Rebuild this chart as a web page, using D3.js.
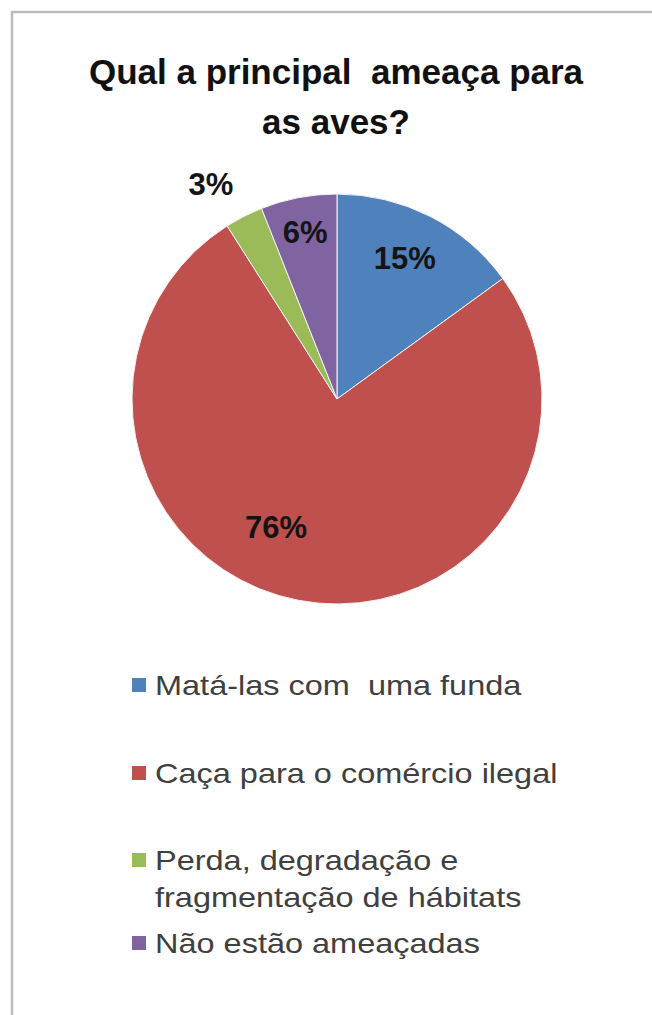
<!DOCTYPE html>
<html>
<head>
<meta charset="utf-8">
<script src="https://cdn.jsdelivr.net/npm/d3@7"></script>
<style>
  html, body { margin: 0; padding: 0; background: #fff; }
  svg { display: block; }
  svg text { white-space: pre; }
</style>
</head>
<body>
<svg id="chart" width="652" height="1015"></svg>
<script>
// Survey answers: main threat to birds
const titleLines = ["Qual a principal  ameaça para", "as aves?"];
const categories = [
  "Matá-las com  uma funda",
  "Caça para o comércio ilegal",
  "Perda, degradação e fragmentação de hábitats",
  "Não estão ameaçadas"
];
const legendLines = [
  ["Matá-las com  uma funda"],
  ["Caça para o comércio ilegal"],
  ["Perda, degradação e", "fragmentação de hábitats"],
  ["Não estão ameaçadas"]
];
const values = [15, 76, 3, 6];
const colors = ["#4f81bd", "#c0504d", "#9bbb59", "#8064a2"];

const svg = d3.select("#chart");
const W = 652, H = 1015;

// frame (only top and left edges fall inside the page)
svg.append("path")
  .attr("d", `M12,${H} L12,12 L${W},12`)
  .attr("fill", "none")
  .attr("stroke", "#bcbcbc")
  .attr("stroke-width", 2.5);

// title
const title = svg.append("text")
  .attr("text-anchor", "middle")
  .attr("font-family", "'Liberation Sans', Arial, sans-serif")
  .attr("font-weight", "bold")
  .attr("font-size", 35)
  .attr("fill", "#111");
title.selectAll("tspan").data(titleLines).join("tspan")
  .attr("x", 336)
  .attr("y", (d, i) => 84 + i * 50)
  .text(d => d);

// pie
const cx = 337, cy = 399, R = 205;
const pie = d3.pie().sort(null).value(d => d)(values);
const arc = d3.arc().innerRadius(0).outerRadius(R);

const g = svg.append("g").attr("transform", `translate(${cx},${cy})`);
g.selectAll("path.slice").data(pie).join("path")
  .attr("class", "slice")
  .attr("d", arc)
  .attr("fill", (d, i) => colors[i])
  .attr("stroke", "#f4f4f4")
  .attr("stroke-width", 1);

// data label placement: position along each slice's sweep, and distance from centre
const labelSweep = [0.476, 0.554, 0.185, 0.5];
const labelRadius = [0.763, 0.69, 1.215, 0.83];
g.selectAll("text.lbl").data(pie).join("text")
  .attr("class", "lbl")
  .attr("text-anchor", "middle")
  .attr("font-family", "'Liberation Sans', Arial, sans-serif")
  .attr("font-weight", "bold")
  .attr("font-size", 31)
  .attr("fill", "#141414")
  .attr("dy", "0.36em")
  .attr("transform", (d, i) => {
    const a = d.startAngle + (d.endAngle - d.startAngle) * labelSweep[i];
    const r = R * labelRadius[i];
    return `translate(${Math.sin(a) * r},${-Math.cos(a) * r})`;
  })
  .text(d => d.value + "%");

// legend
const rowBaseline = [695, 783, 870, 953];
const legend = svg.append("g");
const rows = legend.selectAll("g.row").data(categories).join("g").attr("class", "row");
rows.append("rect")
  .attr("x", 132)
  .attr("y", (d, i) => rowBaseline[i] - 17)
  .attr("width", 14)
  .attr("height", 14)
  .attr("fill", (d, i) => colors[i]);
rows.each(function (d, i) {
  d3.select(this).selectAll("text").data(legendLines[i]).join("text")
    .attr("transform", (t, j) => `translate(155,${rowBaseline[i] + j * 37}) scale(1.16,1)`)
    .attr("font-family", "'Liberation Sans', Arial, sans-serif")
    .attr("font-size", 28)
    .attr("fill", "#404040")
    .text(t => t);
});
</script>
</body>
</html>
